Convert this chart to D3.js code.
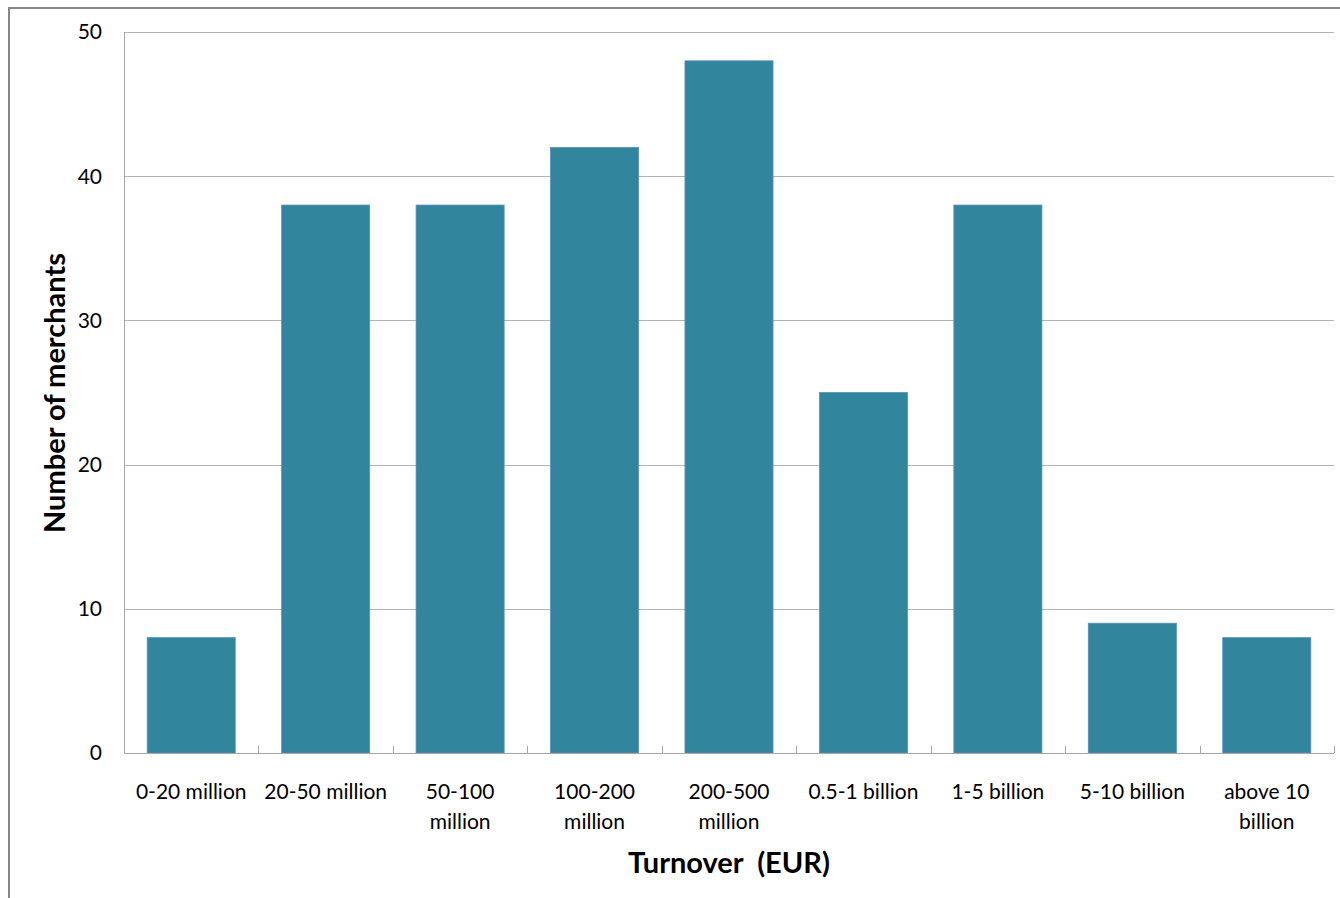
<!DOCTYPE html>
<html>
<head>
<meta charset="utf-8">
<script src="https://cdn.jsdelivr.net/npm/d3@7"></script>
<style>
  body { margin: 0; background: #fff; }
  svg { display: block; }
  text { font-family: Lato, "Open Sans", sans-serif; fill: #000; }
</style>
</head>
<body>
<svg id="chart" width="1340" height="898"></svg>
<script>
// Data
const categories = [
  ["0-20 million"], ["20-50 million"], ["50-100", "million"], ["100-200", "million"],
  ["200-500", "million"], ["0.5-1 billion"], ["1-5 billion"], ["5-10 billion"], ["above 10", "billion"]
];
const merchants = [8, 38, 38, 42, 48, 25, 38, 9, 8];
const yTicks = [0, 10, 20, 30, 40, 50];

const svg = d3.select("#chart");
const width = 1340, height = 898;
const margin = { top: 32, right: 6, bottom: 145, left: 124 };
const innerWidth = width - margin.left - margin.right;
const innerHeight = height - margin.top - margin.bottom;

// outer chart border (only top and left edges are visible)
svg.append("path")
  .attr("d", `M9,${height} V8 H${width}`)
  .attr("fill", "none")
  .attr("stroke", "#868686")
  .attr("stroke-width", 2);

// scales work in page coordinates
const x = d3.scaleBand()
  .domain(d3.range(categories.length))
  .range([margin.left, width - margin.right])
  .paddingInner(0.345)
  .paddingOuter(0.1725);

const y = d3.scaleLinear()
  .domain([0, 50])
  .range([height - margin.bottom, margin.top]);

const x0 = margin.left, x1 = width - margin.right, yBase = y(0);

// gridlines
svg.append("g")
  .selectAll("line")
  .data(yTicks.filter(d => d > 0))
  .join("line")
  .attr("x1", x0).attr("x2", x1)
  .attr("y1", d => Math.round(y(d)) + 0.5)
  .attr("y2", d => Math.round(y(d)) + 0.5)
  .attr("stroke", "#b3b3b3");

// y labels
svg.append("g")
  .selectAll("text")
  .data(yTicks)
  .join("text")
  .attr("x", x0 - 22)
  .attr("y", d => y(d))
  .attr("dy", "0.35em")
  .attr("text-anchor", "end")
  .attr("font-size", 21)
  .text(d => d);

// bars
svg.append("g")
  .selectAll("rect")
  .data(merchants)
  .join("rect")
  .attr("x", (d, i) => x(i))
  .attr("y", d => y(d))
  .attr("width", x.bandwidth())
  .attr("height", d => yBase - y(d))
  .attr("fill", "#31859c")
  .attr("stroke", "#5a8fc0")
  .attr("stroke-width", 0.8);

// y axis line
svg.append("line")
  .attr("x1", x0 + 0.5).attr("x2", x0 + 0.5)
  .attr("y1", margin.top).attr("y2", yBase)
  .attr("stroke", "#a6a6a6");

// x axis line + tick marks at band boundaries
const step = x.step();
svg.append("line")
  .attr("x1", x0).attr("x2", x1)
  .attr("y1", yBase + 0.5).attr("y2", yBase + 0.5)
  .attr("stroke", "#a6a6a6");
svg.append("g")
  .selectAll("line")
  .data(d3.range(1, categories.length + 1))
  .join("line")
  .attr("x1", k => Math.round(x0 + k * step) + 0.5)
  .attr("x2", k => Math.round(x0 + k * step) + 0.5)
  .attr("y1", yBase - 7).attr("y2", yBase)
  .attr("stroke", "#a6a6a6");

// x labels (one text per line)
const xg = svg.append("g");
categories.forEach((lines, i) => {
  lines.forEach((line, j) => {
    xg.append("text")
      .attr("x", x(i) + x.bandwidth() / 2)
      .attr("y", yBase + 46 + j * 30)
      .attr("text-anchor", "middle")
      .attr("font-size", 21)
      .text(line);
  });
});

// axis titles
svg.append("text")
  .attr("x", margin.left + innerWidth / 2)
  .attr("y", 873)
  .attr("text-anchor", "middle")
  .attr("font-size", 29)
  .attr("font-weight", "bold")
  .attr("xml:space", "preserve")
  .text("Turnover  (EUR)");

svg.append("text")
  .attr("transform", "rotate(-90)")
  .attr("x", -393)
  .attr("y", 65)
  .attr("text-anchor", "middle")
  .attr("font-size", 29)
  .attr("font-weight", "bold")
  .text("Number of merchants");
</script>
</body>
</html>
